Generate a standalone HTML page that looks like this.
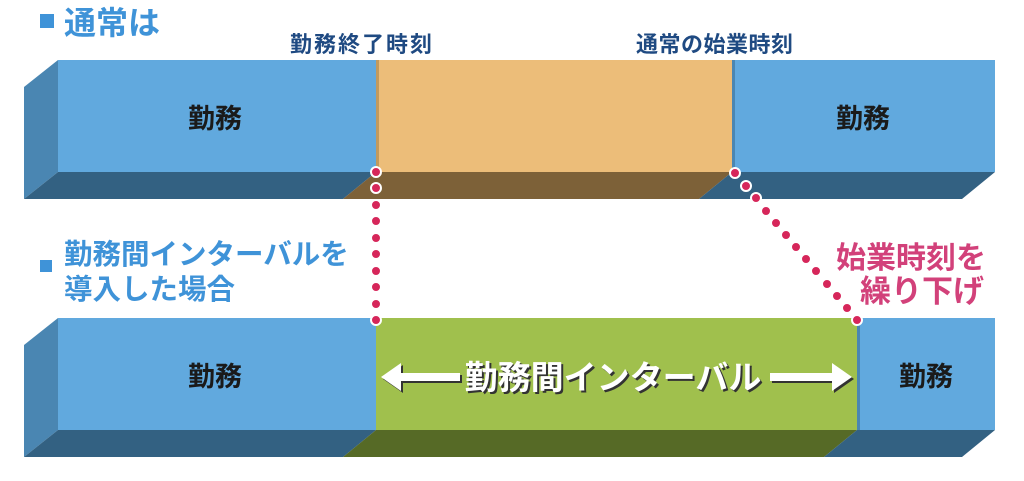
<!DOCTYPE html>
<html><head><meta charset="utf-8"><style>
html,body{margin:0;padding:0;background:#fff;width:1024px;height:481px;overflow:hidden}
svg{display:block}
text{font-family:"Liberation Sans","Noto Sans CJK JP",sans-serif;font-weight:bold}
</style></head><body>
<svg width="1024" height="481" viewBox="0 0 1024 481" xmlns="http://www.w3.org/2000/svg">
<!-- headings -->
<rect x="40" y="14" width="14" height="14" fill="#3f93d8"/>
<text x="64" y="34" font-size="32" fill="#3f93d8">通常は</text>
<text x="290" y="52" font-size="22" letter-spacing="2" fill="#1f4a82">勤務終了時刻</text>
<text x="636" y="52" font-size="22" letter-spacing="0.5" fill="#1f4a82">通常の始業時刻</text>
<rect x="40" y="260" width="12" height="12" fill="#3f93d8"/>
<text x="64" y="264" font-size="28.5" fill="#3f93d8">勤務間インターバルを</text>
<text x="64" y="299" font-size="28.5" fill="#3f93d8">導入した場合</text>
<text x="836" y="268" font-size="30" fill="#d2417a">始業時刻を</text>
<text x="860" y="302" font-size="31" fill="#d2417a">繰り下げ</text>

<!-- top row -->
<polygon points="24,87 58,60 58,172 24,199" fill="#4a86b2"/>
<polygon points="58,172 376,172 343,199 24,199" fill="#336182"/>
<polygon points="376,172 732,172 699,199 343,199" fill="#7d6138"/>
<polygon points="732,172 995,172 962,199 699,199" fill="#336182"/>
<rect x="58" y="60" width="318" height="112" fill="#61a9de"/>
<rect x="376" y="60" width="356" height="112" fill="#ecbd79"/>
<rect x="376" y="60" width="3" height="112" fill="#c19a5e"/>
<rect x="732" y="60" width="263" height="112" fill="#61a9de"/>
<rect x="732" y="60" width="3" height="112" fill="#4a86b2"/>
<text x="215" y="128" font-size="27" fill="#1a1a1a" text-anchor="middle">勤務</text>
<text x="863" y="128" font-size="27" fill="#1a1a1a" text-anchor="middle">勤務</text>

<!-- bottom row -->
<polygon points="24,345 58,318 58,430 24,457" fill="#4a86b2"/>
<polygon points="58,430 376,430 343,457 24,457" fill="#336182"/>
<polygon points="376,430 857,430 824,457 343,457" fill="#566a26"/>
<polygon points="857,430 995,430 962,457 824,457" fill="#336182"/>
<rect x="58" y="318" width="318" height="112" fill="#61a9de"/>
<rect x="376" y="318" width="481" height="112" fill="#a0c04d"/>
<rect x="857" y="318" width="138" height="112" fill="#61a9de"/>
<rect x="857" y="318" width="3" height="112" fill="#4a86b2"/>
<text x="215" y="386" font-size="27" fill="#1a1a1a" text-anchor="middle">勤務</text>
<text x="926" y="386" font-size="27" fill="#1a1a1a" text-anchor="middle">勤務</text>

<!-- interval label -->
<g fill="#333" transform="translate(2,2)">
<polygon points="381,377 401,363 401,373 460,373 460,381 401,381 401,391"/>
<polygon points="852,377 832,363 832,373 770,373 770,381 832,381 832,391"/>
<text x="613" y="389" font-size="33" text-anchor="middle">勤務間インターバル</text>
</g>
<g fill="#fff">
<polygon points="381,377 401,363 401,373 460,373 460,381 401,381 401,391"/>
<polygon points="852,377 832,363 832,373 770,373 770,381 832,381 832,391"/>
<text x="613" y="389" font-size="33" text-anchor="middle">勤務間インターバル</text>
</g>

<!-- dots -->
<g fill="#d6265a" stroke="#fff" stroke-width="2">
<circle cx="376" cy="172" r="5"/><circle cx="376" cy="188" r="5"/><circle cx="376" cy="205" r="5"/>
<circle cx="376" cy="221" r="5"/><circle cx="376" cy="238" r="5"/><circle cx="376" cy="254" r="5"/>
<circle cx="376" cy="271" r="5"/><circle cx="376" cy="287" r="5"/><circle cx="376" cy="304" r="5"/>
<circle cx="376" cy="320" r="5"/>
<circle cx="735" cy="173" r="5"/><circle cx="746" cy="186" r="5"/><circle cx="756" cy="198" r="5"/>
<circle cx="766" cy="211" r="5"/><circle cx="776" cy="223" r="5"/><circle cx="786" cy="235" r="5"/>
<circle cx="796" cy="247" r="5"/><circle cx="806" cy="259" r="5"/><circle cx="816" cy="271" r="5"/>
<circle cx="827" cy="284" r="5"/><circle cx="837" cy="296" r="5"/><circle cx="847" cy="308" r="5"/>
<circle cx="857" cy="320" r="5"/>
</g>
</svg>
</body></html>
